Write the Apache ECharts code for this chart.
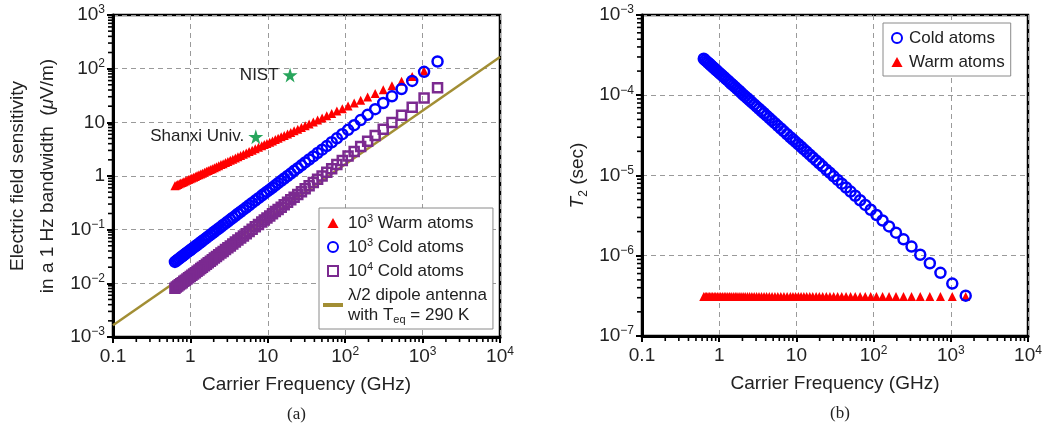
<!DOCTYPE html>
<html>
<head>
<meta charset="utf-8">
<script src="https://cdn.jsdelivr.net/npm/echarts@6/dist/echarts.min.js"></script>
<style>html,body{margin:0;padding:0;background:#fff}#c{width:1045px;height:430px}</style>
</head>
<body>
<div id="c"></div>
<script>
// carrier frequencies (GHz), high to low
const freq = [1560, 1045, 734, 535, 402, 310, 244, 195, 158.5, 130.6, 108.9, 91.7, 78.0, 66.9, 57.8, 50.3, 44.0, 38.7, 34.2, 30.4,
  27.2, 24.4, 21.9, 19.8, 18.0, 16.3, 14.9, 13.6, 12.5, 11.5, 10.6, 9.75, 9.02, 8.36, 7.58, 6.89, 6.28, 5.74, 5.27, 4.84,
  4.46, 4.11, 3.81, 3.53, 3.28, 3.05, 2.84, 2.65, 2.48, 2.32, 2.17, 2.04, 1.92, 1.81, 1.70, 1.61, 1.52, 1.43, 1.36, 1.29,
  1.22, 1.16, 1.10, 1.045, 0.995, 0.947, 0.903, 0.861, 0.822, 0.785, 0.751, 0.718, 0.687, 0.658, 0.631];
// (a) sensitivity, uV/m
const warmE = [null, 90.7, 71.7, 58.1, 48.1, 40.4, 34.4, 29.7, 25.9, 22.8, 20.2, 18.0, 16.2, 14.6, 13.2, 12.1, 11.0, 10.1, 9.34, 8.64,
  8.01, 7.45, 6.95, 6.49, 6.08, 5.71, 5.37, 5.06, 4.77, 4.51, 4.27, 4.05, 3.85, 3.66, 3.43, 3.22, 3.03, 2.85, 2.69, 2.54,
  2.41, 2.28, 2.17, 2.06, 1.96, 1.87, 1.78, 1.70, 1.63, 1.56, 1.49, 1.43, 1.37, 1.32, 1.27, 1.22, 1.18, 1.13, 1.09, 1.05,
  1.02, 0.982, 0.949, 0.918, 0.888, 0.860, 0.833, 0.807, 0.782, 0.759, 0.737, 0.715, 0.694, 0.675, 0.656];
const cold3E = [136, 87.3, 59.2, 41.8, 30.5, 22.9, 17.6, 13.8, 11.0, 8.87, 7.26, 6.01, 5.03, 4.25, 3.61, 3.10, 2.68, 2.32, 2.03, 1.79,
  1.58, 1.40, 1.25, 1.11, 1.00, 0.900, 0.813, 0.737, 0.670, 0.610, 0.557, 0.511, 0.469, 0.431, 0.387, 0.348, 0.315, 0.285, 0.259, 0.236,
  0.216, 0.198, 0.181, 0.167, 0.154, 0.142, 0.131, 0.122, 0.113, 0.105, 0.0979, 0.0914, 0.0854, 0.0799, 0.0748, 0.0702, 0.0659, 0.0620, 0.0583, 0.0550,
  0.0518, 0.0489, 0.0463, 0.0438, 0.0414, 0.0393, 0.0373, 0.0354, 0.0336, 0.0320, 0.0304, 0.0289, 0.0276, 0.0263, 0.0251];
const cold4E = [43.9, 28.3, 19.2, 13.5, 9.88, 7.41, 5.69, 4.46, 3.55, 2.87, 2.35, 1.95, 1.63, 1.37, 1.17, 1.00, 0.866, 0.753, 0.658, 0.578,
  0.510, 0.452, 0.403, 0.360, 0.323, 0.291, 0.263, 0.238, 0.217, 0.197, 0.180, 0.165, 0.152, 0.139, 0.125, 0.113, 0.102, 0.0923, 0.0839, 0.0764,
  0.0698, 0.0639, 0.0587, 0.0540, 0.0497, 0.0460, 0.0425, 0.0394, 0.0366, 0.0340, 0.0317, 0.0296, 0.0276, 0.0258, 0.0242, 0.0227, 0.0213, 0.0200, 0.0189, 0.0178,
  0.0168, 0.0158, 0.0150, 0.0142, 0.0134, 0.0127, 0.0121, 0.0114, 0.0109, 0.0103, 0.00984, 0.00937, 0.00893, 0.00851, 0.00812];
const dipoleF = [0.1, 10000];
const dipoleE = [0.00165, 165];
const starNames = ['NIST', 'Shanxi Univ.'];
const starF = [19.4, 7.0];
const starE = [76, 5.4];
// (b) T2, sec
const coldT2 = [3.18e-7, 4.50e-7, 6.12e-7, 8.06e-7, 1.03e-6, 1.30e-6, 1.60e-6, 1.94e-6, 2.32e-6, 2.75e-6, 3.22e-6, 3.74e-6, 4.30e-6, 4.92e-6, 5.59e-6,
  6.31e-6, 7.09e-6, 7.92e-6, 8.81e-6, 9.76e-6, 1.08e-5, 1.18e-5, 1.30e-5, 1.42e-5, 1.54e-5, 1.68e-5, 1.82e-5, 1.97e-5, 2.12e-5, 2.28e-5,
  2.45e-5, 2.63e-5, 2.81e-5, 3.00e-5, 3.27e-5, 3.55e-5, 3.85e-5, 4.16e-5, 4.49e-5, 4.83e-5, 5.19e-5, 5.57e-5, 5.96e-5, 6.36e-5, 6.79e-5,
  7.23e-5, 7.69e-5, 8.16e-5, 8.66e-5, 9.17e-5, 9.69e-5, 1.02e-4, 1.08e-4, 1.14e-4, 1.20e-4, 1.26e-4, 1.33e-4, 1.39e-4, 1.46e-4, 1.53e-4,
  1.60e-4, 1.68e-4, 1.76e-4, 1.83e-4, 1.91e-4, 2.00e-4, 2.08e-4, 2.17e-4, 2.26e-4, 2.35e-4, 2.45e-4, 2.54e-4, 2.64e-4, 2.74e-4, 2.85e-4];
const warmT2 = [3.1e-7, 3.1e-7, 3.1e-7, 3.1e-7, 3.1e-7, 3.1e-7, 3.1e-7, 3.1e-7, 3.1e-7, 3.1e-7, 3.1e-7, 3.1e-7, 3.1e-7, 3.1e-7, 3.1e-7,
  3.1e-7, 3.1e-7, 3.1e-7, 3.1e-7, 3.1e-7, 3.1e-7, 3.1e-7, 3.1e-7, 3.1e-7, 3.1e-7, 3.1e-7, 3.1e-7, 3.1e-7, 3.1e-7, 3.1e-7,
  3.1e-7, 3.1e-7, 3.1e-7, 3.1e-7, 3.1e-7, 3.1e-7, 3.1e-7, 3.1e-7, 3.1e-7, 3.1e-7, 3.1e-7, 3.1e-7, 3.1e-7, 3.1e-7, 3.1e-7,
  3.1e-7, 3.1e-7, 3.1e-7, 3.1e-7, 3.1e-7, 3.1e-7, 3.1e-7, 3.1e-7, 3.1e-7, 3.1e-7, 3.1e-7, 3.1e-7, 3.1e-7, 3.1e-7, 3.1e-7,
  3.1e-7, 3.1e-7, 3.1e-7, 3.1e-7, 3.1e-7, 3.1e-7, 3.1e-7, 3.1e-7, 3.1e-7, 3.1e-7, 3.1e-7, 3.1e-7, 3.1e-7, 3.1e-7, 3.1e-7];
// axis ranges (decade exponents)
const xExp = [-1, 4];
const yExpA = [-3, 3];
const yExpB = [-7, -3];

const FONT = 'Liberation Sans';
const TXT = '#222';
const pairs = (xs, ys) => xs.map((x, i) => [x, ys[i]]).filter(p => p[1] != null);
const supRich = {
  n: { fontSize: 19, lineHeight: 22, fontFamily: FONT, color: TXT },
  sup: { fontSize: 12, lineHeight: 12, verticalAlign: 'top', fontFamily: FONT, color: TXT }
};
const decLabel = (v, plain) => {
  const e = Math.round(Math.log10(v));
  if (e === -1 && plain) return '{n|0.1}';
  if (e === 0) return '{n|1}';
  if (e === 1) return '{n|10}';
  return '{n|10}{sup|' + String(e).replace('-', '\u2212') + '}';
};
const xLabel = v => decLabel(v, true);
const yLabel = v => decLabel(v, false);

const STAR = 'path://M50,0 L61,35 L98,35 L68,57 L79,91 L50,70 L21,91 L32,57 L2,35 L39,35 Z';
const TRI = 'path://M5,0 L10,9 L0,9 Z';
const SQ = 'path://M0,0 H10 V10 H0 Z';
const CIR = 'path://M10,5 A5,5,0,1,1,0,5 A5,5,0,1,1,10,5 Z';
const BAR = 'path://M0,0 H20 V4 H0 Z';
const BLUE = '#0000ff', RED = '#ff0000', PURPLE = '#7b2a90', OLIVE = '#a28e34';
const hollow = c => ({ color: 'rgba(0,0,0,0)', borderColor: c, borderWidth: 2.5, opacity: 1 });

const grid = [
  { left: 113, right: 545, top: 15, bottom: 93, show: true, borderColor: '#000', borderWidth: 2.5 },
  { left: 642, right: 17, top: 15, bottom: 94, show: true, borderColor: '#000', borderWidth: 2.5 }
];
const split = { show: true, lineStyle: { color: '#9a9a9a', type: [5, 4], width: 1 } };
const axisBase = {
  type: 'log', logBase: 10,
  axisLine: { show: true, lineStyle: { color: '#000', width: 3 } },
  axisTick: { show: true, inside: false, length: 6, lineStyle: { color: '#000', width: 2 } },
  splitLine: split
};
const xAx = gi => Object.assign({}, axisBase, {
  gridIndex: gi, min: Math.pow(10, xExp[0]), max: Math.pow(10, xExp[1]), splitNumber: 5,
  axisLabel: { formatter: xLabel, margin: 9, rich: supRich },
  name: 'Carrier Frequency (GHz)', nameLocation: 'middle', nameGap: 38,
  nameTextStyle: { fontSize: 19, fontFamily: FONT, color: TXT }
});
const legendText = {
  fontSize: 17, lineHeight: 20, fontFamily: FONT, color: TXT, rich: {
    sup: { fontSize: 11, lineHeight: 11, verticalAlign: 'top', fontFamily: FONT, color: TXT },
    sub: { fontSize: 11, lineHeight: 11, verticalAlign: 'bottom', fontFamily: FONT, color: TXT } }
};
const chart = echarts.init(document.getElementById('c'));
chart.setOption({
  animation: false,
  grid: grid,
  xAxis: [xAx(0), xAx(1)],
  yAxis: [
    Object.assign({}, axisBase, {
      gridIndex: 0, min: Math.pow(10, yExpA[0]), max: Math.pow(10, yExpA[1]), splitNumber: 6,
      axisLabel: { formatter: yLabel, margin: 8, rich: supRich },
      name: '{t|Electric field sensitivity}\n{t|in a 1 Hz bandwidth  (}{i|\u03bc}{t|V/m)}',
      nameLocation: 'middle', nameGap: 50, nameRotate: 90,
      nameTextStyle: { rich: {
        t: { fontSize: 19, lineHeight: 30, fontFamily: FONT, color: TXT },
        i: { fontSize: 19, lineHeight: 30, fontFamily: FONT, fontStyle: 'italic', color: TXT } } }
    }),
    Object.assign({}, axisBase, {
      gridIndex: 1, min: Math.pow(10, yExpB[0]), max: Math.pow(10, yExpB[1]), splitNumber: 4,
      axisLabel: { formatter: yLabel, margin: 8, rich: supRich },
      name: '{it|T}{sub|2}{t| (sec)}',
      nameLocation: 'middle', nameGap: 52, nameRotate: 90,
      nameTextStyle: { rich: {
        t: { fontSize: 19, lineHeight: 24, fontFamily: FONT, color: TXT },
        it: { fontSize: 19, lineHeight: 24, fontFamily: FONT, fontStyle: 'italic', color: TXT },
        sub: { fontSize: 12, lineHeight: 12, verticalAlign: 'bottom', fontFamily: FONT, color: TXT } } }
    })
  ],
  legend: [
    {
      orient: 'vertical', left: 319, top: 208, padding: [5, 6, 4, 4], itemGap: 4,
      itemWidth: 20, itemHeight: 10, backgroundColor: '#fff', borderColor: '#8a8a8a', borderWidth: 1,
      selectedMode: false, symbolKeepAspect: true,
      data: [
        { name: 'w3', icon: TRI },
        { name: 'c3', icon: CIR },
        { name: 'c4', icon: SQ },
        { name: 'dip', icon: BAR, itemStyle: { color: OLIVE, borderWidth: 0 }, lineStyle: { width: 0 } }
      ],
      formatter: n => ({
        w3: '10{sup|3} Warm atoms',
        c3: '10{sup|3} Cold atoms',
        c4: '10{sup|4} Cold atoms',
        dip: '\u03bb/2 dipole antenna\nwith T{sub|eq} = 290 K'
      })[n],
      textStyle: legendText
    },
    {
      orient: 'vertical', left: 883, top: 23, padding: [5, 6, 4, 8], itemGap: 4,
      itemWidth: 14, itemHeight: 10, backgroundColor: '#fff', borderColor: '#8a8a8a', borderWidth: 1,
      selectedMode: false, symbolKeepAspect: true,
      data: [{ name: 'Cold atoms', icon: CIR }, { name: 'Warm atoms', icon: TRI }],
      textStyle: legendText
    }
  ],
  series: [
    { name: 'dip', type: 'line', xAxisIndex: 0, yAxisIndex: 0, data: pairs(dipoleF, dipoleE),
      symbol: 'none', lineStyle: { color: OLIVE, width: 2.5 }, itemStyle: { color: OLIVE }, z: 1 },
    { name: 'w3', type: 'scatter', xAxisIndex: 0, yAxisIndex: 0, data: pairs(freq, warmE),
      symbol: 'triangle', symbolSize: 9, itemStyle: { color: RED, opacity: 1 }, z: 2 },
    { name: 'c4', type: 'scatter', xAxisIndex: 0, yAxisIndex: 0, data: pairs(freq, cold4E),
      symbol: 'rect', symbolSize: 9, itemStyle: hollow(PURPLE), z: 3 },
    { name: 'c3', type: 'scatter', xAxisIndex: 0, yAxisIndex: 0, data: pairs(freq, cold3E),
      symbol: 'circle', symbolSize: 10, itemStyle: hollow(BLUE), z: 4 },
    { name: 'stars', type: 'scatter', xAxisIndex: 0, yAxisIndex: 0,
      data: starNames.map((n, i) => ({ name: n, value: [starF[i], starE[i]] })),
      symbol: STAR, symbolSize: 15, itemStyle: { color: '#28a55c', opacity: 1 }, z: 5,
      label: { show: true, position: 'left', distance: 4, formatter: '{b}', fontSize: 17, fontFamily: FONT, color: TXT } },
    { name: 'Warm atoms', type: 'scatter', xAxisIndex: 1, yAxisIndex: 1, data: pairs(freq, warmT2),
      symbol: 'triangle', symbolSize: 9, itemStyle: { color: RED, opacity: 1 }, z: 2 },
    { name: 'Cold atoms', type: 'scatter', xAxisIndex: 1, yAxisIndex: 1, data: pairs(freq, coldT2),
      symbol: 'circle', symbolSize: 10, itemStyle: hollow(BLUE), z: 3 }
  ]
});

// minor log ticks (2..9 per decade) placed with the axes' own scales
function minorTicks() {
  const els = [];
  const yRanges = [yExpA, yExpB];
  [0, 1].forEach(gi => {
    const x0 = chart.convertToPixel({ xAxisIndex: gi }, Math.pow(10, xExp[0]));
    const y0 = chart.convertToPixel({ yAxisIndex: gi }, Math.pow(10, yRanges[gi][0]));
    for (let e = xExp[0]; e < xExp[1]; e++) for (let m = 2; m <= 9; m++) {
      const px = chart.convertToPixel({ xAxisIndex: gi }, m * Math.pow(10, e));
      els.push({ type: 'line', silent: true, shape: { x1: px, y1: y0, x2: px, y2: y0 + 5 }, style: { stroke: '#000', lineWidth: 1.6 } });
    }
    for (let e = yRanges[gi][0]; e < yRanges[gi][1]; e++) for (let m = 2; m <= 9; m++) {
      const py = chart.convertToPixel({ yAxisIndex: gi }, m * Math.pow(10, e));
      els.push({ type: 'line', silent: true, shape: { x1: x0, y1: py, x2: x0 - 5, y2: py }, style: { stroke: '#000', lineWidth: 1.6 } });
    }
  });
  els.push({ type: 'text', left: 287, top: 406, style: { text: '(a)', fontSize: 17, fontFamily: 'Liberation Serif', fill: TXT } });
  els.push({ type: 'text', left: 830, top: 405, style: { text: '(b)', fontSize: 17, fontFamily: 'Liberation Serif', fill: TXT } });
  chart.setOption({ graphic: els });
}
minorTicks();
window.addEventListener('resize', () => chart.resize());
</script>
</body>
</html>
